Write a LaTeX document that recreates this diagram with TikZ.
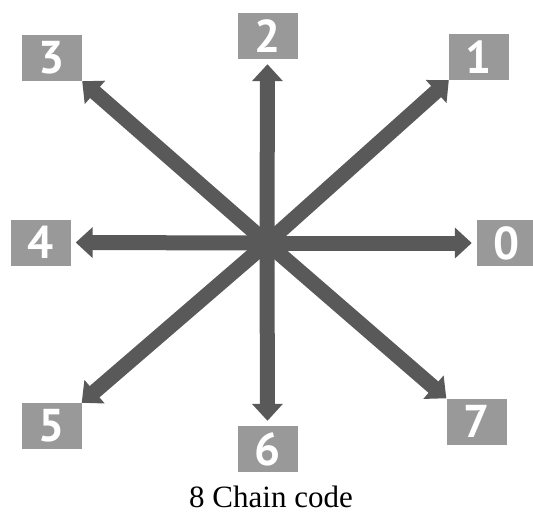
\documentclass[tikz,border=0pt]{standalone}
\usepackage{fontspec}
\setmainfont{Liberation Serif}
\newfontfamily\ccdigits{PT Sans}
\usetikzlibrary{arrows.meta}
\definecolor{ccBox}{HTML}{999999}
\definecolor{ccArrow}{HTML}{595959}
\tikzset{
  ccdir/.style={rectangle,fill=ccBox,minimum width=60pt,minimum height=46pt,
                inner sep=0pt,text=white,
                font=\ccdigits\bfseries\fontsize{46}{46}\selectfont},
  ccarrow/.style={-{Triangle[width=30pt,length=17pt]},line width=15pt,
                  ccArrow},
  ccgap/.style={ccarrow,shorten >=5pt},
  cclabel/.style={font=\fontsize{31}{31}\selectfont,anchor=base,inner sep=0pt}
}

\begin{document}
\begin{tikzpicture}[x=1pt,y=-1pt]
    \useasboundingbox (0,0) rectangle (533,515);
    \coordinate (o) at (267,243);
    \node[ccdir] (b0) at (507,243) {0};
    \node[ccdir] (b1) at (479,57) {1};
    \node[ccdir] (b2) at (267.5,36) {2};
    \node[ccdir] (b3) at (52,58) {3};
    \node[ccdir] (b4) at (40.5,242.5) {4};
    \node[ccdir] (b5) at (51.5,426) {5};
    \node[ccdir] (b6) at (267.5,449) {6};
    \node[ccdir] (b7) at (476.5,421.5) {7};

    \draw[ccgap] (o) -- (b0.west);
    \draw[ccarrow] (o) -- (b1.south west);
    \draw[ccgap] (o) -- (b2.south);
    \draw[ccarrow] (o) -- (b3.south east);
    \draw[ccgap] (o) -- (b4.east);
    \draw[ccarrow] (o) -- (b5.north east);
    \draw[ccgap] (o) -- (b6.north);
    \draw[ccarrow] (o) -- (b7.north west);

    \node[cclabel] (cap) at (271,507) {8 Chain code};
  \end{tikzpicture}
\end{document}
